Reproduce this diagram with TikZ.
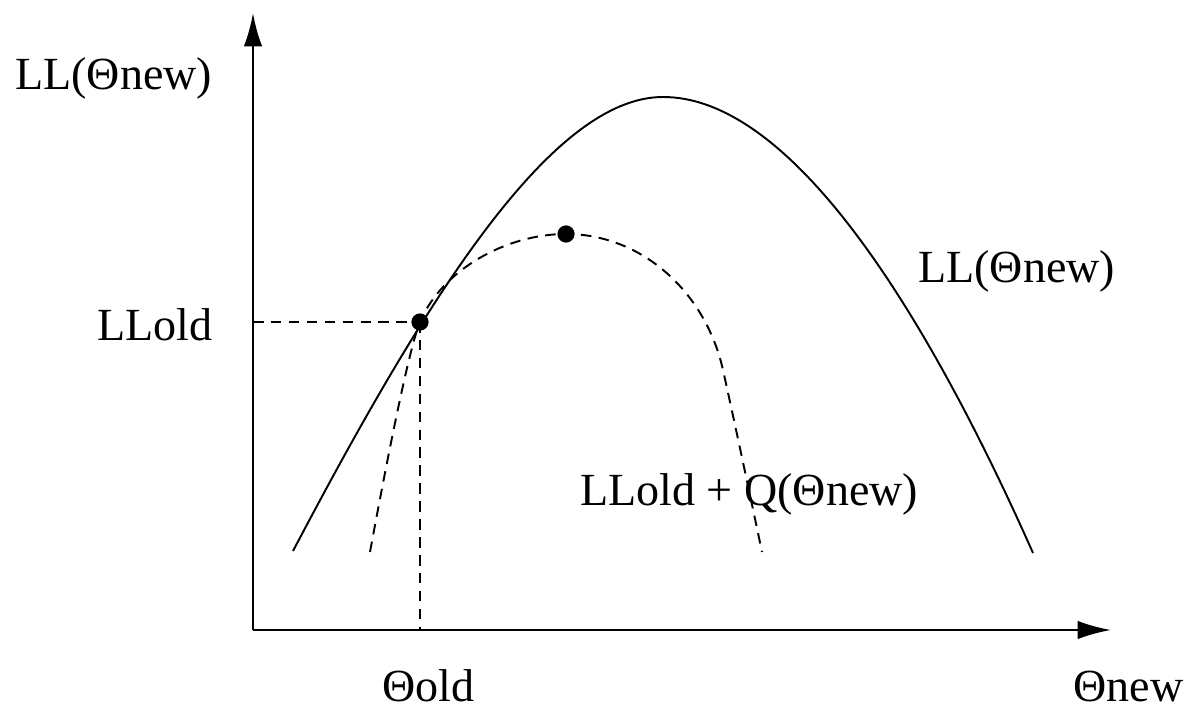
\documentclass[tikz,border=0pt]{standalone}
\usepackage{fontspec}
\setmainfont{Liberation Serif}
\usetikzlibrary{arrows.meta}
\begin{document}
\begin{tikzpicture}[x=0.02cm,y=-0.02cm,
  axis/.style={line width=1.4pt,-{Latex[length=19pt,width=10.5pt]}},
  curve/.style={line width=1.1pt},
  dcurve/.style={line width=1.1pt,dash pattern=on 6pt off 4.2pt},
  guide/.style={line width=1.1pt,dash pattern=on 6pt off 4.2pt},
  lbl/.style={font=\fontsize{26.2}{30}\selectfont,inner sep=0pt,anchor=base west},
  dotmark/.style={circle,fill=black,inner sep=0pt,minimum size=9.8pt}]
\useasboundingbox (0,0) rectangle (1189,709);
% axes
\coordinate (O) at (253,630);
\coordinate (Ytop) at (253,13);
\coordinate (Xend) at (1111,630);
\draw[axis] (O) -- (Ytop);
\draw[axis] (O) -- (Xend);
% LL curve
\coordinate (LLa) at (293,551);
\coordinate (LLtop) at (663,97);
\coordinate (LLb) at (1033,553);
\draw[curve] (LLa) .. controls (423,304) and (550,97) .. (LLtop)
  .. controls (783,97) and (913,283) .. (LLb);
% LLold + Q curve
\coordinate (Qa) at (370,552);
\coordinate (Qtop) at (566,234);
\coordinate (Qr) at (723,370);
\coordinate (Qb) at (762,552);
\draw[dcurve] (Qa) .. controls (387,460) and (409,348) .. (420,322)
  .. controls (442,270) and (506,234) .. (Qtop)
  .. controls (640,234) and (705,290) .. (Qr)
  .. controls (733,415) and (750,495) .. (Qb);
% points
\node[dotmark] (P) at (420,322) {};
\node[dotmark] (M) at (566,234) {};
\coordinate (Py) at (253,322);
\coordinate (Px) at (420,630);
\draw[guide] (Py) -- (P.center);
\draw[guide] (P.center) -- (Px);
% labels
\node[lbl] (ylab) at (15,90) {LL(Θnew)};
\node[lbl] (llold) at (97,340) {LLold};
\node[lbl] (llcurve) at (918,283) {LL(Θnew)};
\node[lbl] (qcurve) at (580,505) {LLold + Q(Θnew)};
\node[lbl] (thold) at (382,701) {Θold};
\node[lbl] (thnew) at (1073,701) {Θnew};
\end{tikzpicture}
\end{document}
